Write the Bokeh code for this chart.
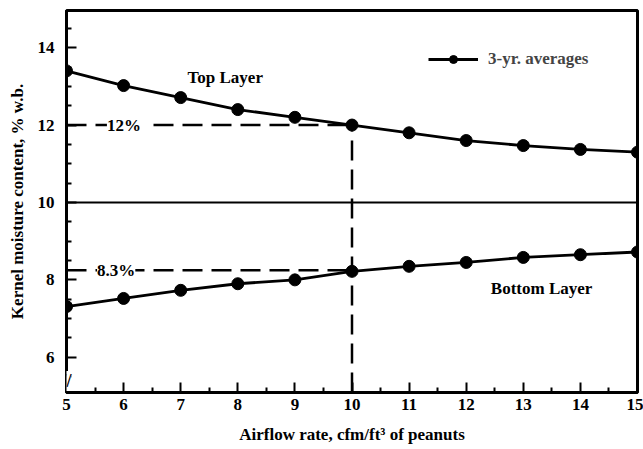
from bokeh.plotting import figure
from bokeh.models import Label, Legend, LegendItem, Span, FixedTicker
from bokeh.embed import file_html
from bokeh.resources import INLINE

airflow = [5, 6, 7, 8, 9, 10, 11, 12, 13, 14, 15]
top_layer = [13.4, 13.02, 12.71, 12.4, 12.2, 12.0, 11.8, 11.6, 11.47, 11.37, 11.3]
bottom_layer = [7.31, 7.52, 7.73, 7.9, 8.0, 8.22, 8.35, 8.45, 8.58, 8.65, 8.72]
ref_x = [5, 10]
top_ref = 12.0
bottom_ref = 8.25
y_ticks = [6, 8, 10, 12, 14]
x_ticks = [5, 6, 7, 8, 9, 10, 11, 12, 13, 14, 15]

FONT = "Liberation Serif"
Y0, Y1 = 5.09, 14.96

p = figure(width=643, height=449, x_range=(5, 15), y_range=(Y0, Y1),
           output_backend="svg", toolbar_location=None,
           min_border_left=66, min_border_right=6, min_border_top=10, min_border_bottom=57)
p.background_fill_color = "white"
p.border_fill_color = "white"
p.xgrid.visible = False
p.ygrid.visible = False
p.outline_line_color = "black"
p.outline_line_width = 3

for ax in (p.xaxis[0], p.yaxis[0]):
    ax.axis_line_width = 3
    ax.axis_line_color = "black"
    ax.major_tick_in = 10
    ax.major_tick_out = 0
    ax.minor_tick_in = 5
    ax.minor_tick_out = 0
    ax.major_tick_line_width = 2
    ax.minor_tick_line_width = 2
    ax.major_label_text_font = FONT
    ax.major_label_text_font_style = "bold"
    ax.major_label_text_font_size = "17px"
    ax.major_label_text_color = "black"
    ax.axis_label_text_font = FONT
    ax.axis_label_text_font_style = "bold"
    ax.axis_label_text_font_size = "17px"
    ax.axis_label_text_color = "black"

p.xaxis.ticker = FixedTicker(ticks=x_ticks, minor_ticks=[v + 0.5 for v in x_ticks[:-1]])
p.yaxis.ticker = FixedTicker(ticks=y_ticks, minor_ticks=[v / 2 for v in range(11, 30) if v % 4 != 0])
p.xaxis.axis_label = "Airflow rate, cfm/ft³ of peanuts"
p.yaxis.axis_label = "Kernel moisture content, % w.b."
p.xaxis.major_label_standoff = 6
p.xaxis.axis_label_standoff = 12
p.yaxis.major_label_standoff = 12
p.yaxis.axis_label_standoff = 8

# reference line at 10%
p.add_layout(Span(location=10, dimension="width", line_color="black", line_width=2))

# dashed guides
p.line(ref_x, [top_ref, top_ref], line_color="black", line_width=2.5, line_dash="20 9")
p.line(ref_x, [bottom_ref, bottom_ref], line_color="black", line_width=2.5, line_dash="20 9")
p.line([ref_x[1], ref_x[1]], [Y0, top_ref], line_color="black", line_width=2.5, line_dash="20 9")

l1 = p.line(airflow, top_layer, line_color="black", line_width=2.8)
s1 = p.scatter(airflow, top_layer, size=12, fill_color="black", line_color="black")
l2 = p.line(airflow, bottom_layer, line_color="black", line_width=2.8)
s2 = p.scatter(airflow, bottom_layer, size=12, fill_color="black", line_color="black")

def lab(x, y, t, size="17px", bg=None, anchor="center", **extra):
    kw = dict(x=x, y=y, text=t, text_font=FONT, text_font_style="bold",
              text_font_size=size, text_color="black", text_align=anchor,
              text_baseline="middle")
    if bg:
        kw.update(background_fill_color=bg, background_fill_alpha=1.0)
    kw.update(extra)
    p.add_layout(Label(**kw))

lab(6.08, top_ref, " 12% ", bg="white")
lab(5.87, bottom_ref, "8.3%", bg="white")
lab(7.78, 13.23, "Top Layer")
lab(13.32, 7.78, "Bottom Layer")
# axis break mark
lab(5, 5.39, "//", size="18px", bg="white")

legend = Legend(items=[LegendItem(label="3-yr. averages", renderers=[l1, s1])],
                location=(362, 323), border_line_color=None, background_fill_alpha=0,
                label_text_font=FONT, label_text_font_style="bold", padding=5,
                label_text_font_size="17px", glyph_width=50, label_standoff=10)
p.add_layout(legend, "center")

open("out.html", "w").write(file_html(p, INLINE))
